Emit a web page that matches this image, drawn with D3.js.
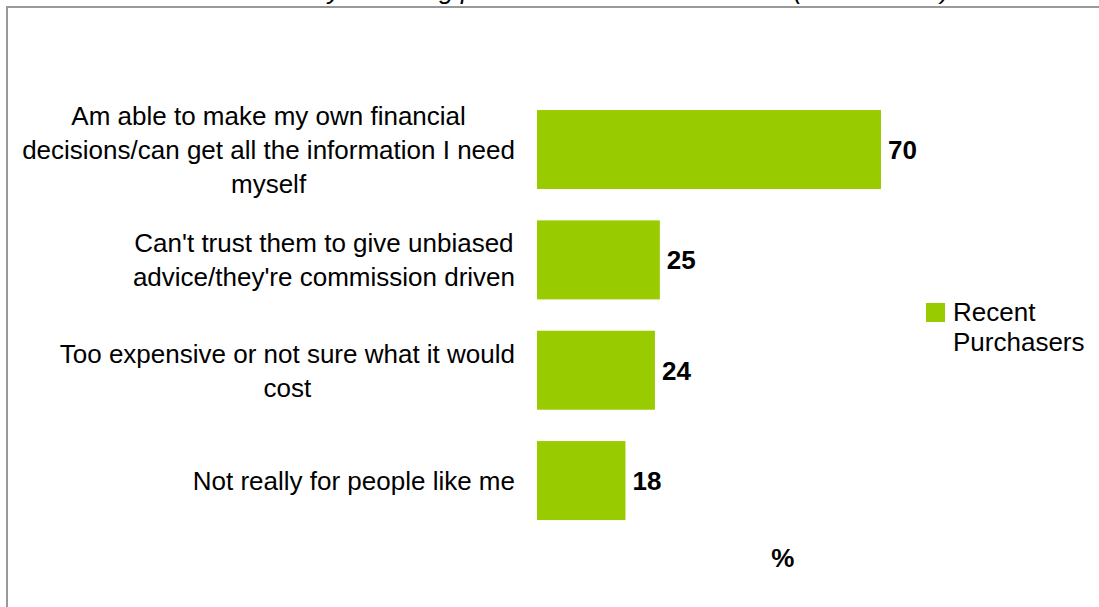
<!DOCTYPE html>
<html>
<head>
<meta charset="utf-8">
<script src="https://cdn.jsdelivr.net/npm/d3@7"></script>
<style>
  html, body { margin: 0; padding: 0; background: #fff; }
  svg { display: block; font-family: "Liberation Sans", Arial, sans-serif; }
</style>
</head>
<body>
<svg id="chart" width="1099" height="607"></svg>
<script>
// Reasons given, one entry per bar (each entry is the wrapped lines of its label)
const categories = [
  ["Am able to make my own financial", "decisions/can get all the information I need", "myself"],
  ["Can't trust them to give unbiased", "advice/they're commission driven"],
  ["Too expensive or not sure what it would", "cost"],
  ["Not really for people like me"]
];
const seriesName = "Recent Purchasers";
const values = [70, 25, 24, 18];
const axisTitle = "%";
const chartTitle = "Reasons why not using professional financial advice (all mentions)";

const svg = d3.select("#chart");
const W = 1099, H = 607;

// chart frame (only its top and left edges fall inside the view)
svg.append("path")
  .attr("d", `M7,${H} L7,7 L${W},7`)
  .attr("fill", "none")
  .attr("stroke", "#999999")
  .attr("stroke-width", 2);

// title sits above the frame, mostly outside the view
svg.append("text")
  .attr("x", 185)
  .attr("y", -1)
  .attr("font-size", 26)
  .attr("font-style", "italic")
  .attr("fill", "#000")
  .text(chartTitle);

const keys = categories.map((c, i) => "c" + i);

const x = d3.scaleLinear().domain([0, 100]).range([537, 1028.4]);
const y = d3.scaleBand().domain(keys).range([78.7, 551.4]).padding(0.284);

const barColor = "#99cc00";

// bars
svg.append("g").selectAll("rect")
  .data(values)
  .join("rect")
  .attr("x", x(0))
  .attr("y", (d, i) => y(keys[i]))
  .attr("width", d => x(d) - x(0))
  .attr("height", y.bandwidth())
  .attr("fill", barColor);

// value labels
svg.append("g").selectAll("text")
  .data(values)
  .join("text")
  .attr("x", d => x(d) + 7)
  .attr("y", (d, i) => y(keys[i]) + y.bandwidth() / 2 + 9.3)
  .attr("font-size", 26)
  .attr("font-weight", "bold")
  .attr("fill", "#000")
  .text(d => d);

// category labels: lines centred on each other, block right-aligned to the axis
const labelRight = 515;
const lineH = 34;
const labelG = svg.append("g");
categories.forEach((lines, i) => {
  const cy = y(keys[i]) + y.bandwidth() / 2;
  const t = labelG.append("text")
    .attr("font-size", 26)
    .attr("fill", "#000")
    .attr("text-anchor", "middle");
  const spans = lines.map((ln, j) =>
    t.append("tspan")
      .attr("y", cy + (j - (lines.length - 1) / 2) * lineH + 9.3)
      .text(ln)
  );
  const maxW = d3.max(spans, s => s.node().getComputedTextLength());
  spans.forEach(s => s.attr("x", labelRight - maxW / 2));
});

// axis title
svg.append("text")
  .attr("x", (x.range()[0] + x.range()[1]) / 2)
  .attr("y", 566.5)
  .attr("text-anchor", "middle")
  .attr("font-size", 26)
  .attr("font-weight", "bold")
  .attr("fill", "#000")
  .text(axisTitle);

// legend
const legend = svg.append("g").attr("transform", "translate(926,303)");
legend.append("rect")
  .attr("width", 19)
  .attr("height", 19)
  .attr("fill", barColor);
const legendText = legend.append("text")
  .attr("font-size", 26)
  .attr("fill", "#000");
seriesName.split(" ").forEach((w, j) => {
  legendText.append("tspan")
    .attr("x", 27)
    .attr("y", 18 + j * 30)
    .text(w);
});
</script>
</body>
</html>
